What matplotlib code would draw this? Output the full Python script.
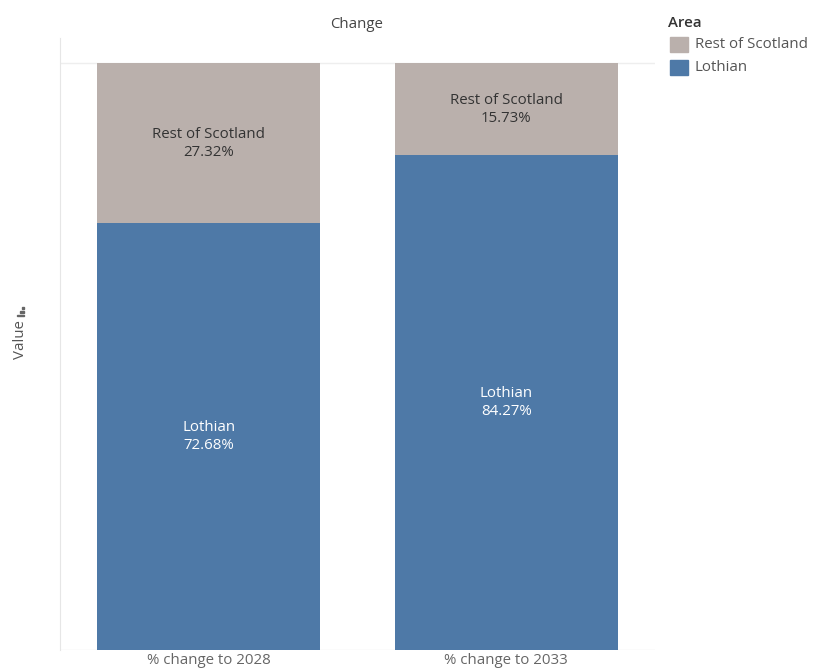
import numpy as np
import matplotlib.pyplot as plt
from matplotlib.patches import Rectangle

# data
periods = ['% change to 2028', '% change to 2033']
lothian = [72.68, 84.27]
rest = [27.32, 15.73]
areas = ['Rest of Scotland', 'Lothian']
colours = {'Lothian': '#4e79a7', 'Rest of Scotland': '#bab0ac'}

plt.rcParams['font.family'] = ['Open Sans', 'DejaVu Sans']
fs = 10.8

fig = plt.figure(figsize=(8.16, 6.71), dpi=100)
ax = fig.add_axes([60/816, 1-650/671, 595/816, 612/671])

x = np.arange(len(periods))
w = 0.75
ax.bar(x, lothian, w, color=colours['Lothian'], zorder=2)
ax.bar(x, rest, w, bottom=lothian, color=colours['Rest of Scotland'], zorder=2)

for i in range(len(periods)):
    ax.text(x[i], lothian[i]/2, 'Lothian\n%.2f%%' % lothian[i], ha='center', va='center',
            color='white', fontsize=fs, linespacing=1.25)
    ax.text(x[i], lothian[i] + rest[i]/2, 'Rest of Scotland\n%.2f%%' % rest[i], ha='center',
            va='center', color='#333333', fontsize=fs, linespacing=1.25)

ax.set_xlim(-0.5, 1.5)
ax.set_ylim(0, 100*612/587)
ax.axhline(100, color='#eeeeee', lw=1, zorder=1)
ax.axhline(0, color='#eeeeee', lw=1, zorder=1)
for s in ['top', 'right', 'bottom']:
    ax.spines[s].set_visible(False)
ax.spines['left'].set_color('#e6e6e6')
ax.set_yticks([])
ax.set_xticks(x)
ax.set_xticklabels(periods, fontsize=fs, color='#666666')
ax.tick_params(axis='x', length=0, pad=2)

fig.text(357/816, 1-24/671, 'Change', ha='center', va='center', fontsize=fs, color='#444444')
fig.text(20/816, 1-340/671, 'Value', rotation=90, ha='center', va='center', fontsize=fs, color='#555555')
# small sort icon next to the axis title (rotated bar glyph)
for k, ln in enumerate([2, 4, 7]):
    fig.patches.append(Rectangle(((24 - ln)/816, 1-(309 + k*3.5)/671), ln/816, 1.5/671,
                                 transform=fig.transFigure, color='#666666'))

# legend
fig.text(668/816, 1-23/671, 'Area', ha='left', va='center', fontsize=fs, color='#333333',
         fontweight='semibold')
for k, a in enumerate(areas):
    y0 = 37 + k*23
    fig.patches.append(Rectangle((670/816, 1-(y0+15)/671), 18/816, 15/671,
                                 transform=fig.transFigure, color=colours[a]))
    fig.text(695/816, 1-(y0+7.5)/671, a, ha='left', va='center', fontsize=fs, color='#555555')

plt.savefig('out.png', dpi=100)
